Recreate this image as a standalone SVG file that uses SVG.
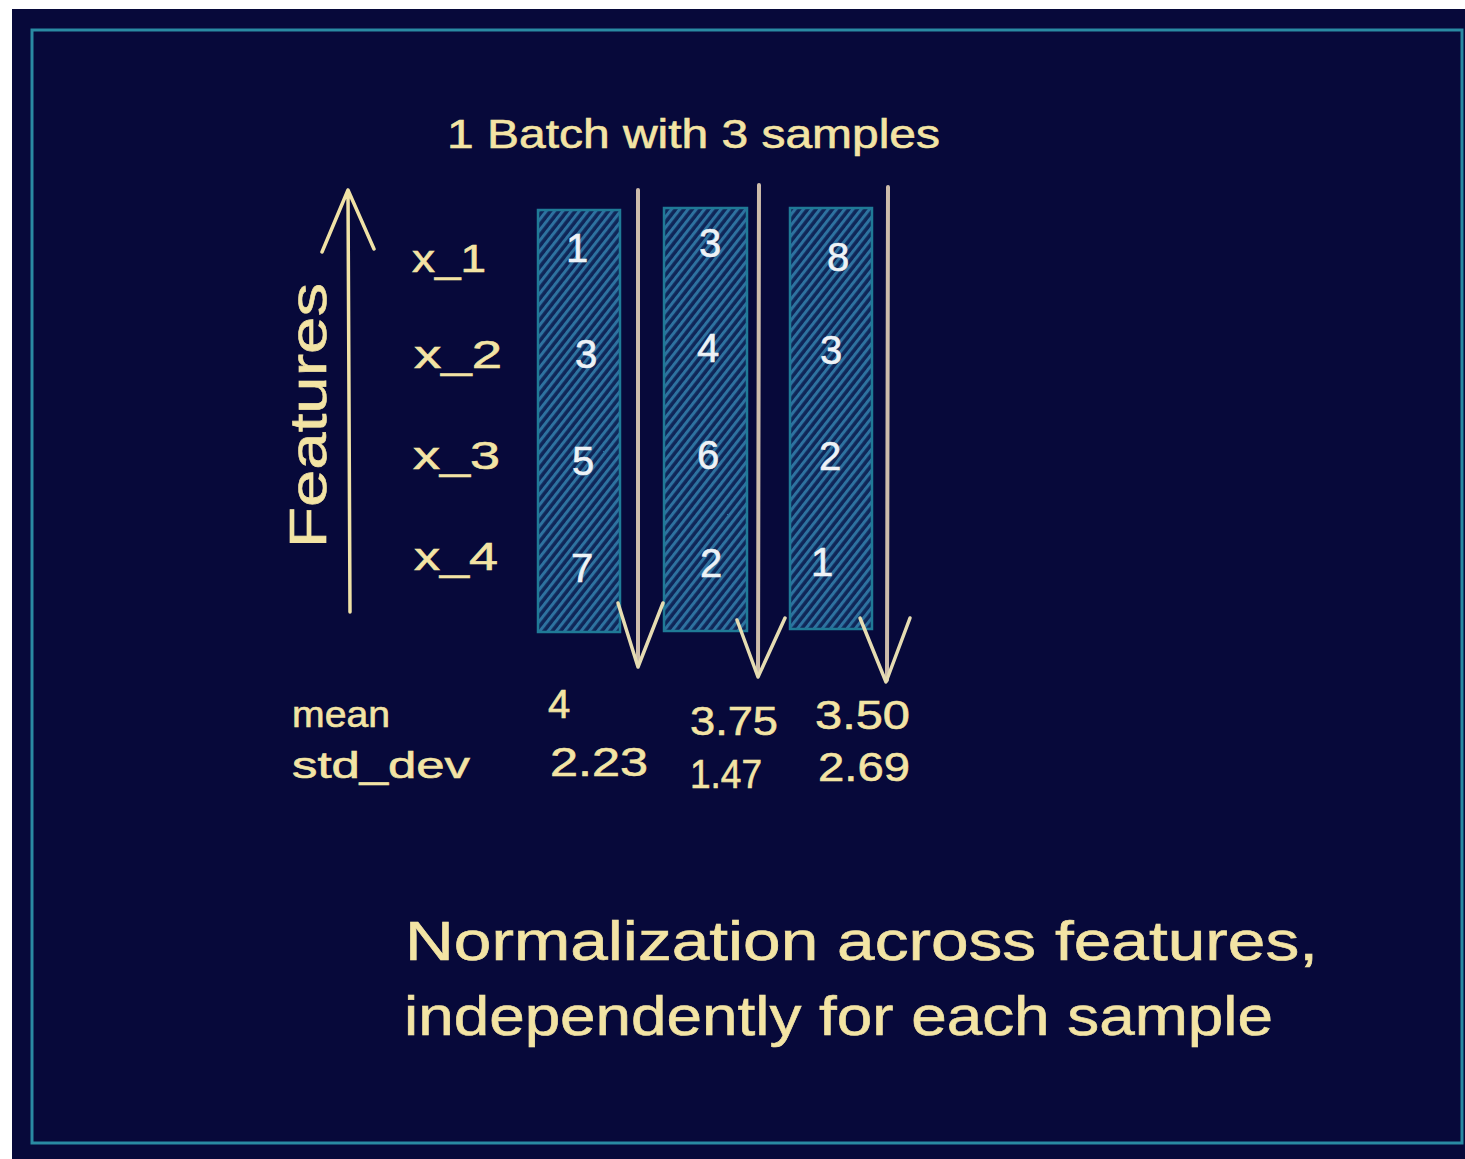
<svg xmlns="http://www.w3.org/2000/svg" width="1465" height="1159" viewBox="0 0 1465 1159">
<defs>
<style>
.y{fill:#f3e4a4;stroke:#f3e4a4;stroke-width:0.6;font-family:"Liberation Sans",Arial,sans-serif}
.w{fill:#eef2f6;stroke:#eef2f6;stroke-width:0.6;font-family:"Liberation Sans",Arial,sans-serif;font-size:40px;text-anchor:middle}
.col{stroke:#1f7a96;stroke-width:2.5}
.shaft{stroke:#cdbcab;stroke-width:4;fill:none;stroke-linecap:round}
.head{stroke:#e6dcb2;stroke-width:3.5;fill:none;stroke-linecap:round;stroke-linejoin:round}
.feat{stroke:#f0e2a6;stroke-width:3.5;fill:none;stroke-linecap:round;stroke-linejoin:round}
</style>
<pattern id="hatch" patternUnits="userSpaceOnUse" width="6.5" height="8" patternTransform="rotate(38)">
<rect width="6.5" height="8" fill="#0f2658"/>
<line x1="1.5" y1="0" x2="1.5" y2="8" stroke="#2e72a0" stroke-width="3"/>
</pattern>
</defs>
<rect width="1465" height="1159" fill="#ffffff"/>
<rect x="12" y="9" width="1453" height="1150" fill="#07093a"/>
<rect x="32" y="30" width="1430" height="1113" fill="none" stroke="#2a8aa2" stroke-width="3"/>

<text class="y" x="447" y="148" font-size="40" textLength="493" lengthAdjust="spacingAndGlyphs">1 Batch with 3 samples</text>

<g id="features-axis">
<path class="feat" d="M350 612 L348 190 M322 252 L348 190 L374 249"/>
<text class="y" transform="translate(326,548) rotate(-90)" font-size="52" textLength="265" lengthAdjust="spacingAndGlyphs">Features</text>
</g>

<g id="feature-labels">
<text class="y" x="412" y="272" font-size="38" textLength="74" lengthAdjust="spacingAndGlyphs">x_1</text>
<text class="y" x="414" y="368" font-size="38" textLength="88" lengthAdjust="spacingAndGlyphs">x_2</text>
<text class="y" x="413" y="469" font-size="38" textLength="87" lengthAdjust="spacingAndGlyphs">x_3</text>
<text class="y" x="414" y="570" font-size="38" textLength="84" lengthAdjust="spacingAndGlyphs">x_4</text>
</g>

<g id="sample1">
<rect class="col" x="538" y="210" width="82" height="422" fill="url(#hatch)"/>
<text class="w" x="577" y="262">1</text>
<text class="w" x="586" y="368">3</text>
<text class="w" x="583" y="475">5</text>
<text class="w" x="582" y="582">7</text>
</g>
<g id="sample2">
<rect class="col" x="664" y="208" width="83" height="423" fill="url(#hatch)"/>
<text class="w" x="710" y="257">3</text>
<text class="w" x="708" y="362">4</text>
<text class="w" x="708" y="469">6</text>
<text class="w" x="711" y="577">2</text>
</g>
<g id="sample3">
<rect class="col" x="790" y="208" width="82" height="421" fill="url(#hatch)"/>
<text class="w" x="838" y="271">8</text>
<text class="w" x="831" y="364">3</text>
<text class="w" x="830" y="470">2</text>
<text class="w" x="822" y="576">1</text>
</g>

<g id="connectors">
<path class="shaft" d="M638 190 L638 665"/>
<path class="head" d="M618 603 L638 667 L663 603"/>
<path class="shaft" d="M759 185 L758 675"/>
<path class="head" d="M737 620 L758 677 L785 618"/>
<path class="shaft" d="M888 187 L887 680"/>
<path class="head" d="M860 618 L886 682 L910 618"/>
</g>

<g id="stats">
<text class="y" x="292" y="727" font-size="36" textLength="98" lengthAdjust="spacingAndGlyphs">mean</text>
<text class="y" x="292" y="778" font-size="36" textLength="178" lengthAdjust="spacingAndGlyphs">std_dev</text>
<text class="y" x="548" y="718" font-size="40">4</text>
<text class="y" x="690" y="735" font-size="40" textLength="88" lengthAdjust="spacingAndGlyphs">3.75</text>
<text class="y" x="815" y="729" font-size="40" textLength="95" lengthAdjust="spacingAndGlyphs">3.50</text>
<text class="y" x="550" y="776" font-size="40" textLength="98" lengthAdjust="spacingAndGlyphs">2.23</text>
<text class="y" x="690" y="788" font-size="40" textLength="72" lengthAdjust="spacingAndGlyphs">1.47</text>
<text class="y" x="818" y="781" font-size="40" textLength="92" lengthAdjust="spacingAndGlyphs">2.69</text>
</g>

<g id="caption">
<text class="y" x="405" y="960" font-size="56" textLength="913" lengthAdjust="spacingAndGlyphs">Normalization across features,</text>
<text class="y" x="404" y="1035" font-size="56" textLength="869" lengthAdjust="spacingAndGlyphs">independently for each sample</text>
</g>
</svg>
